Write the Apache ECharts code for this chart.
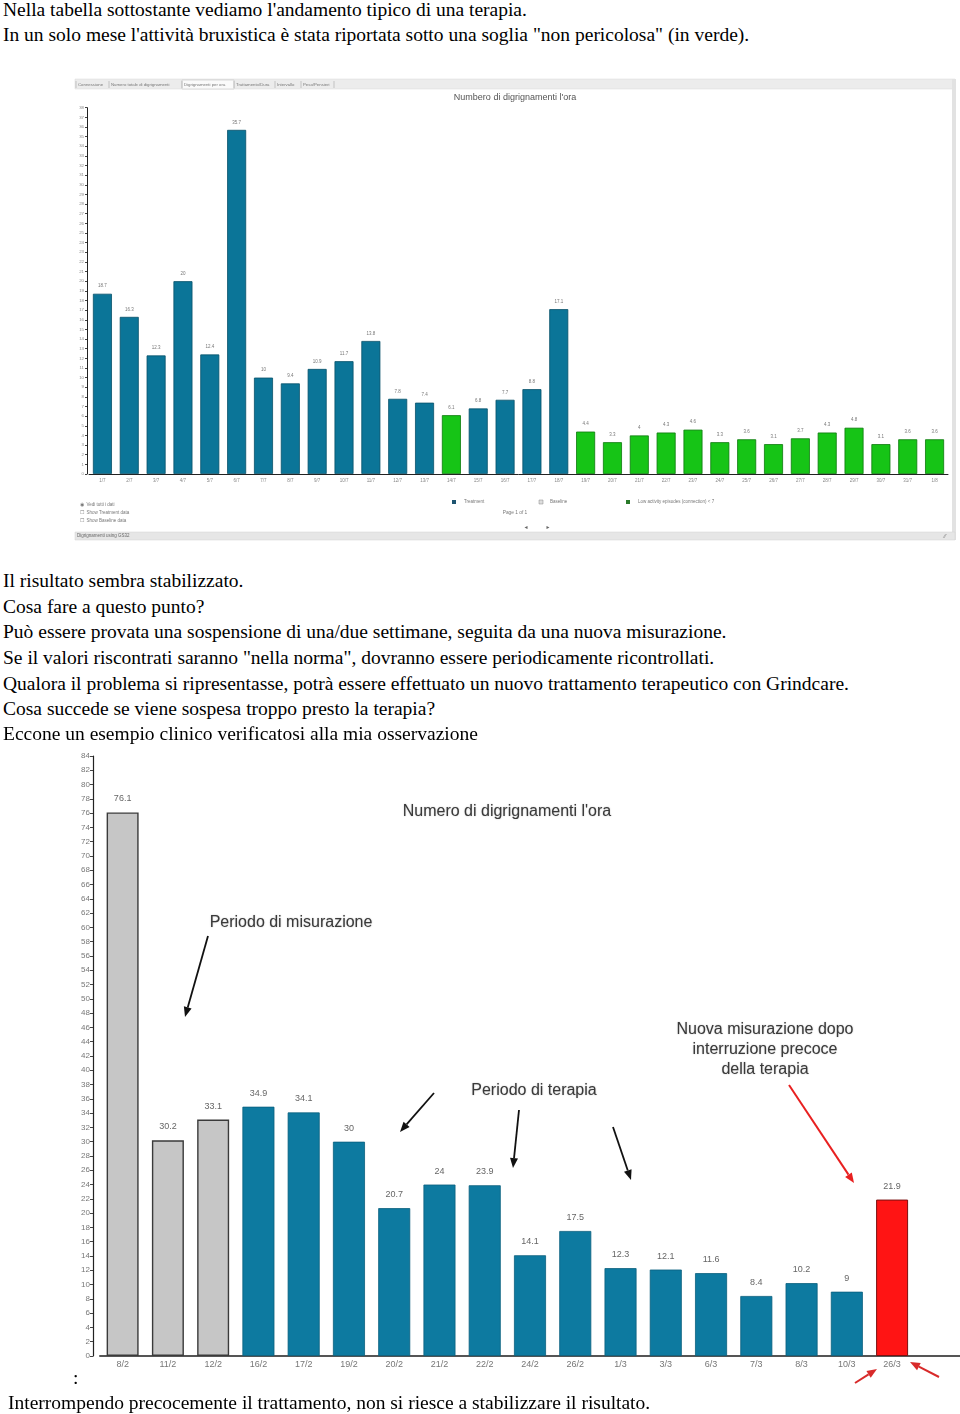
<!DOCTYPE html>
<html><head><meta charset="utf-8">
<script src="https://cdn.jsdelivr.net/npm/echarts@6/dist/echarts.min.js"></script>
<style>
body{margin:0;background:#fff;width:960px;height:1414px;position:relative;overflow:hidden;font-family:'Liberation Serif','Times New Roman',serif;}
.t{position:absolute;left:3px;font-size:19.5px;line-height:22px;white-space:nowrap;color:#000;z-index:2;}
#c1{position:absolute;left:0;top:70px;width:960px;height:480px;}
#c2{position:absolute;left:0;top:740px;width:960px;height:660px;}
</style></head><body>
<div class="t" style="top:-1px">Nella tabella sottostante vediamo l'andamento tipico di una terapia.</div>
<div class="t" style="top:24px">In un solo mese l'attività bruxistica è stata riportata sotto una soglia "non pericolosa" (in verde).</div>
<div id="c1"></div>
<div class="t" style="top:570px">Il risultato sembra stabilizzato.</div>
<div class="t" style="top:596px">Cosa fare a questo punto?</div>
<div class="t" style="top:621px">Può essere provata una sospensione di una/due settimane, seguita da una nuova misurazione.</div>
<div class="t" style="top:647px">Se il valori riscontrati saranno "nella norma", dovranno essere periodicamente ricontrollati.</div>
<div class="t" style="top:673px">Qualora il problema si ripresentasse, potrà essere effettuato un nuovo trattamento terapeutico con Grindcare.</div>
<div class="t" style="top:698px">Cosa succede se viene sospesa troppo presto la terapia?</div>
<div class="t" style="top:723px">Eccone un esempio clinico verificatosi alla mia osservazione</div>
<div id="c2"></div>
<div class="t" style="top:1367px;left:73px">:</div>
<div class="t" style="top:1392px;left:8px">Interrompendo precocemente il trattamento, non si riesce a stabilizzare il risultato.</div>
<script>
// ---------- DATA ----------
const c1Dates = ['1/7','2/7','3/7','4/7','5/7','6/7','7/7','8/7','9/7','10/7','11/7','12/7','13/7','14/7','15/7','16/7','17/7','18/7','19/7','20/7','21/7','22/7','23/7','24/7','25/7','26/7','27/7','28/7','29/7','30/7','31/7','1/8'];
const c1Values = [18.7,16.3,12.3,20,12.4,35.7,10,9.4,10.9,11.7,13.8,7.8,7.4,6.1,6.8,7.7,8.8,17.1,4.4,3.3,4,4.3,4.6,3.3,3.6,3.1,3.7,4.3,4.8,3.1,3.6,3.6];
const c1Phase = ['T','T','T','T','T','T','T','T','T','T','T','T','T','L','T','T','T','T','L','L','L','L','L','L','L','L','L','L','L','L','L','L'];
const c1Ticks = {min:0, max:38, interval:1};

const c2Dates = ['8/2','11/2','12/2','16/2','17/2','19/2','20/2','21/2','22/2','24/2','26/2','1/3','3/3','6/3','7/3','8/3','10/3','26/3'];
const c2Values = [76.1,30.2,33.1,34.9,34.1,30,20.7,24,23.9,14.1,17.5,12.3,12.1,11.6,8.4,10.2,9,21.9];
const c2Phase = ['B','B','B','T','T','T','T','T','T','T','T','T','T','T','T','T','T','R'];
const c2Ticks = {min:0, max:84, interval:2};

// ---------- CHART 1 ----------
const O1 = 70;
const c1Style = {
  T:{color:'#0b7598', borderColor:'#07506a', borderWidth:0.8},
  L:{color:'#16c416', borderColor:'#0c7a0c', borderWidth:0.8}
};
function tx(x,y,text,size,color,align,extra){
  return Object.assign({type:'text',x:x,y:y,style:{text:text,fontSize:size,fill:color||'#666',align:align||'left',verticalAlign:'middle',fontFamily:'Liberation Sans, Arial, sans-serif'}},extra||{});
}
const ch1 = echarts.init(document.getElementById('c1'));
const g1 = [];
g1.push({type:'rect',shape:{x:75,y:79-O1,width:880,height:10},style:{fill:'#ececec',stroke:'#d8d8d8',lineWidth:0.5}});
const tabs = [[77,'Connessione'],[110,'Numero totale di digrignamenti'],[183,'Digrignamenti per ora'],[235,'Trattamento/Dura'],[276,'Intervallo'],[302,'Peso/Pensieri']];
tabs.forEach((t,i)=>{
  if(i===2) g1.push({type:'rect',shape:{x:182,y:80-O1,width:52,height:9},style:{fill:'#fafafa',stroke:'#bbb',lineWidth:0.5}});
  g1.push(tx(t[0]+1,84.5-O1,t[1],4.3,'#777'));
  g1.push({type:'line',shape:{x1:t[0]-1,y1:81-O1,x2:t[0]-1,y2:88-O1},style:{stroke:'#aaa',lineWidth:0.6}});
});
g1.push({type:'line',shape:{x1:334,y1:81-O1,x2:334,y2:88-O1},style:{stroke:'#aaa',lineWidth:0.6}});
g1.push({type:'rect',shape:{x:952,y:79-O1,width:4,height:461},style:{fill:'#e2e2e2'}});
g1.push(tx(515,98-O1,"Numbero di digrignamenti l'ora",9,'#555','center'));
g1.push(tx(80,505-O1,'◉  Vedi tutti i dati',4.5,'#777'));
g1.push(tx(80,513-O1,'☐  Show Treatment data',4.5,'#777'));
g1.push(tx(80,521-O1,'☐  Show Baseline data',4.5,'#777'));
g1.push({type:'rect',shape:{x:452,y:500-O1,width:4,height:4},style:{fill:'#1d5470'}});
g1.push(tx(464,502-O1,'Treatment',4.5,'#777'));
g1.push({type:'rect',shape:{x:539,y:500-O1,width:4,height:4},style:{fill:'#ddd',stroke:'#888',lineWidth:0.5}});
g1.push(tx(550,502-O1,'Baseline',4.5,'#777'));
g1.push({type:'rect',shape:{x:626,y:500-O1,width:4,height:4},style:{fill:'#2a7a2a'}});
g1.push(tx(638,502-O1,'Low activity episodes (connection) < 7',4.5,'#777'));
g1.push(tx(515,513-O1,'Page 1 of 1',4.8,'#777','center'));
g1.push(tx(526,528-O1,'◄',5,'#666','center'));
g1.push(tx(548,528-O1,'►',5,'#666','center'));
g1.push({type:'rect',shape:{x:75,y:532-O1,width:880,height:8},style:{fill:'#e6e6e6',stroke:'#d0d0d0',lineWidth:0.5}});
g1.push(tx(77,536-O1,'Digrignamenti using GS32',4.5,'#666'));
g1.push(tx(945,536-O1,'⁄⁄',6,'#888','center'));

ch1.setOption({
  animation:false,
  textStyle:{fontFamily:'Liberation Sans, Arial, sans-serif'},
  grid:{left:89,right:12,top:107.7-O1,bottom:480-(474-O1)},
  xAxis:{type:'category',data:c1Dates,
    axisLine:{lineStyle:{color:'#222',width:1}},axisTick:{show:false},
    axisLabel:{fontSize:4.5,color:'#888',interval:0,margin:4}},
  yAxis:{type:'value',min:c1Ticks.min,max:c1Ticks.max,interval:c1Ticks.interval,offset:2,
    axisLine:{show:true,lineStyle:{color:'#222',width:1}},
    axisTick:{show:true,length:2,lineStyle:{color:'#444'}},
    axisLabel:{fontSize:4.3,color:'#888',margin:3},splitLine:{show:false}},
  series:[{type:'bar',barWidth:19,
    data:c1Values.map((v,i)=>({value:v,itemStyle:c1Style[c1Phase[i]]})),
    label:{show:true,position:'top',fontSize:4.5,color:'#777',distance:5}}],
  graphic:g1
});

// ---------- CHART 2 ----------
const O2 = 740;
const c2Style = {
  B:{color:'#c6c6c6', borderColor:'#3a3a3a', borderWidth:1.4},
  T:{color:'#0d7aa0', borderColor:'#0a5f7e', borderWidth:0.8},
  R:{color:'#ff1414', borderColor:'#7a1010', borderWidth:1}
};
function arrow(x1,y1,x2,y2,color,w){
  const a=Math.atan2(y2-y1,x2-x1), L=10, W=4;
  const bx=x2-L*Math.cos(a), by=y2-L*Math.sin(a);
  const px=-Math.sin(a)*W, py=Math.cos(a)*W;
  return [
    {type:'line',shape:{x1:x1,y1:y1-O2,x2:bx,y2:by-O2},style:{stroke:color,lineWidth:w}},
    {type:'polygon',shape:{points:[[x2,y2-O2],[bx+px,by+py-O2],[bx-px,by-py-O2]]},style:{fill:color}}
  ];
}
function tt(x,y,text,size){
  return {type:'text',x:x,y:y-O2,style:{text:text,fontSize:size,fill:'#3a3a3a',align:'center',verticalAlign:'middle',
    fontFamily:'Liberation Sans, Arial, sans-serif',textShadowColor:'rgba(0,0,0,0.3)',textShadowBlur:1.5}};
}
const g2 = [];
g2.push(tt(507,812,"Numero di digrignamenti l'ora",16));
g2.push(tt(291,923,'Periodo di misurazione',16));
g2.push(tt(534,1091,'Periodo di terapia',16));
g2.push(tt(765,1030,'Nuova misurazione dopo',16));
g2.push(tt(765,1050,'interruzione precoce',16));
g2.push(tt(765,1070,'della terapia',16));
g2.push(...arrow(208,936,185,1017,'#111',1.8));
g2.push(...arrow(434,1093,400,1132,'#111',1.8));
g2.push(...arrow(519,1110,513,1168,'#111',1.8));
g2.push(...arrow(613,1127,631,1180,'#111',1.8));
g2.push(...arrow(789,1085,854,1183,'#e82020',2));
g2.push(...arrow(855,1383,877,1369,'#d82a2a',2));
g2.push(...arrow(939,1377,910,1362,'#d82a2a',2));

const ch2 = echarts.init(document.getElementById('c2'));
ch2.setOption({
  animation:false,
  textStyle:{fontFamily:'Liberation Sans Narrow, Liberation Sans, Arial, sans-serif'},
  grid:{left:100,right:0,top:756-O2,bottom:660-(1356-O2)},
  xAxis:{type:'category',data:c2Dates.concat(['']),
    axisLine:{lineStyle:{color:'#555',width:2}},axisTick:{show:false},
    axisLabel:{fontSize:9,color:'#777',interval:0,margin:4}},
  yAxis:{type:'value',min:c2Ticks.min,max:c2Ticks.max,interval:c2Ticks.interval,offset:7,
    axisLine:{show:true,lineStyle:{color:'#222',width:1.2}},
    axisTick:{show:true,length:3,lineStyle:{color:'#444'}},
    axisLabel:{fontSize:8,color:'#777',margin:3},splitLine:{show:false}},
  series:[{type:'bar',barWidth:32,
    data:c2Values.map((v,i)=>({value:v,itemStyle:c2Style[c2Phase[i]]})),
    label:{show:true,position:'top',fontSize:9,color:'#666',distance:9}}],
  graphic:g2
});
</script>
</body></html>
